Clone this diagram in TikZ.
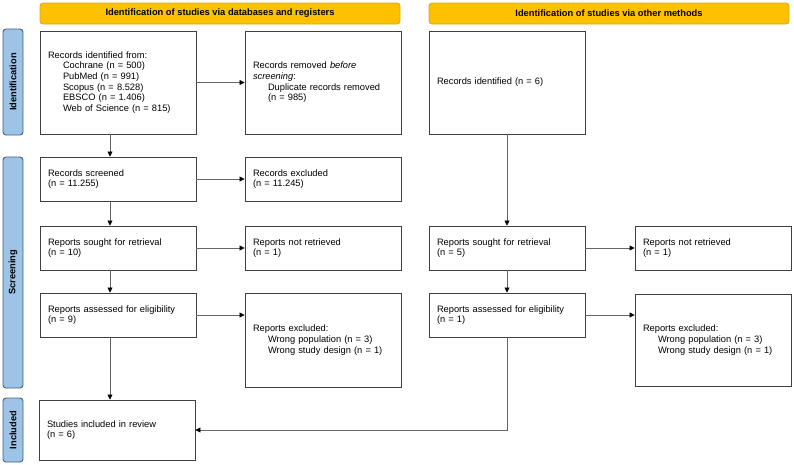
\documentclass[tikz,border=0pt]{standalone}
\usepackage{fontspec}
\setmainfont{Liberation Sans}
\usetikzlibrary{arrows.meta}
\definecolor{hdrfill}{HTML}{FFC000}
\definecolor{hdrline}{HTML}{D9A520}
\definecolor{stgfill}{HTML}{9DC3E6}
\definecolor{stgline}{HTML}{44617B}
\newcommand{\indnt}{\hspace*{15pt}}

\begin{document}
\begin{tikzpicture}[x=1pt,y=-1pt,
   every node/.style={font=\fontsize{9.3}{10.7}\selectfont},
   box/.style={draw=black!75,line width=0.9pt,fill=white,text width=140pt,
     inner xsep=8pt,align=left},
   header/.style={draw=hdrline,fill=hdrfill,line width=0.8pt,rounded corners=3pt,
     minimum width=360pt,minimum height=21pt,font=\fontsize{9.3}{10.7}\selectfont\bfseries},
   stage/.style={draw=stgline,fill=stgfill,line width=0.9pt,rounded corners=3pt,
     rotate=90,minimum height=20pt,inner sep=0pt,font=\fontsize{9.3}{10.7}\selectfont\bfseries},
   arr/.style={draw=black!60,line width=0.7pt,-{Triangle[length=5pt,width=5pt,black]}}]
   \useasboundingbox (0,0) rectangle (794,464);
   % headers and stages
   \node[header] (hdrdb) at (220,13.5) {Identification of studies via databases and registers};
   \node[header] (hdroth) at (609,13.5) {Identification of studies via other methods};
   \node[stage,minimum width=106pt] (stid) at (13,82) {Identification};
   \node[stage,minimum width=231pt] (stscr) at (13,272.5) {Screening};
   \node[stage,minimum width=64pt] (stinc) at (13,430) {Included};
   % databases and registers
   \node[box,minimum height=103pt] (recid) at (118,82.5) {Records identified from:\\
     \indnt Cochrane (n = 500)\\ \indnt PubMed (n = 991)\\ \indnt Scopus (n = 8.528)\\
     \indnt EBSCO (n = 1.406)\\ \indnt Web of Science (n = 815)};
   \node[box,minimum height=103pt] (recrem) at (323,82.5) {Records removed \textit{before}\\
     \textit{screening}:\\ \indnt Duplicate records removed\\ \indnt (n = 985)};
   \node[box,minimum height=44pt] (recscr) at (118,179) {Records screened\\(n = 11.255)};
   \node[box,minimum height=44pt] (recexc) at (323,179) {Records excluded\\(n = 11.245)};
   \node[box,minimum height=44pt] (repsou) at (118,248) {Reports sought for retrieval\\(n = 10)};
   \node[box,minimum height=44pt] (repnot) at (323,248) {Reports not retrieved\\(n = 1)};
   \node[box,minimum height=44pt] (repass) at (118,315) {Reports assessed for eligibility\\(n = 9)};
   \node[box,minimum height=94pt] (repexc) at (323,340) {Reports excluded:\\
     \indnt Wrong population (n = 3)\\ \indnt Wrong study design (n = 1)};
   \node[box,minimum height=60pt] (incl) at (117,430) {Studies included in review\\(n = 6)};
   % other methods
   \node[box,minimum height=103pt] (recidb) at (507,82.5) {Records identified (n = 6)};
   \node[box,minimum height=44pt] (repsoub) at (507,248) {Reports sought for retrieval\\(n = 5)};
   \node[box,minimum height=44pt] (repnotb) at (713,248) {Reports not retrieved\\(n = 1)};
   \node[box,minimum height=44pt] (repassb) at (507,315) {Reports assessed for eligibility\\(n = 1)};
   \node[box,minimum height=92pt] (repexcb) at (713,340) {Reports excluded:\\
     \indnt Wrong population (n = 3)\\ \indnt Wrong study design (n = 1)};
   % connectors
   \draw[arr] (recid) -- (recrem);
   \draw[arr] ([xshift=-8pt]recid.south) -- ([xshift=-8pt]recscr.north);
   \draw[arr] (recscr) -- (recexc);
   \draw[arr] ([xshift=-8pt]recscr.south) -- ([xshift=-8pt]repsou.north);
   \draw[arr] (repsou) -- (repnot);
   \draw[arr] ([xshift=-8pt]repsou.south) -- ([xshift=-8pt]repass.north);
   \draw[arr] (repass) -- (repass -| repexc.west);
   \draw[arr] ([xshift=-8pt]repass.south) -- ([xshift=-7pt]incl.north);
   \draw[arr] (recidb) -- (repsoub);
   \draw[arr] (repsoub) -- (repnotb);
   \draw[arr] (repsoub) -- (repassb);
   \draw[arr] (repassb) -- (repassb -| repexcb.west);
   \draw[arr] (repassb.south) |- (incl.east);
\end{tikzpicture}
\end{document}
